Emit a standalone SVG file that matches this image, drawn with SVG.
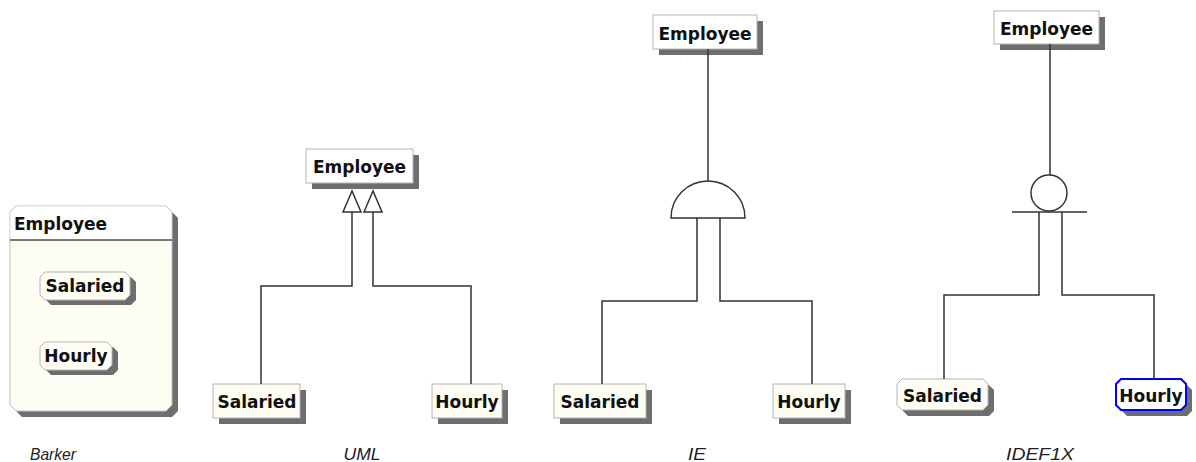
<svg xmlns="http://www.w3.org/2000/svg" width="1196" height="462" viewBox="0 0 1196 462">
<style>
.shadow{fill:#6e6e6e}
.box{fill:#ffffff;stroke:#b4b4b4;stroke-width:1}
.sub{fill:#fdfdf4;stroke:#b4b4b4;stroke-width:1}
.t{font-family:"DejaVu Sans",sans-serif;font-weight:bold;font-size:17px;fill:#111;text-anchor:middle}
.lbl{font-family:"Liberation Sans",sans-serif;font-style:italic;font-size:17px;fill:#222;text-anchor:middle}
.ln{fill:none;stroke:#333;stroke-width:1.5}
.sym{fill:#fff;stroke:#333;stroke-width:1.5}
</style>

<!-- Barker -->
<g id="barker-employee">
<path class="shadow" d="M22,212 H172 L178,218 V411 L172,417 H22 L16,411 V218 Z"/>
<path fill="#fdfdf4" stroke="#c0c0c0" d="M16,206 H166 L172,212 V405 L166,411 H16 L10,405 V212 Z"/>
<path fill="#ffffff" d="M16.5,206.5 H165.5 L171.5,212.5 V239 H10.5 V212.5 Z"/>
<line x1="10" y1="240" x2="172" y2="240" stroke="#7a7a7a" stroke-width="2"/>
<text x="14" y="230" class="t" text-anchor="start" style="text-anchor:start">Employee</text>
</g>
<g id="barker-salaried">
<path class="shadow" d="M51,277 H131 L136,282 V300 L131,305 H51 L46,300 V282 Z"/>
<path class="sub" d="M45,272 H125 L130,277 V295 L125,300 H45 L40,295 V277 Z"/>
<text x="85" y="292" class="t">Salaried</text>
</g>
<g id="barker-hourly">
<path class="shadow" d="M51,347 H113 L118,352 V370 L113,375 H51 L46,370 V352 Z"/>
<path class="sub" d="M45,342 H107 L112,347 V365 L107,370 H45 L40,365 V347 Z"/>
<text x="76" y="362" class="t">Hourly</text>
</g>

<!-- UML -->
<g id="uml-employee">
<rect class="shadow" x="312" y="155" width="107" height="34"/>
<rect class="box" x="306" y="149" width="107" height="34"/>
<text x="359.5" y="173" class="t">Employee</text>
</g>
<g id="uml-salaried">
<rect class="shadow" x="219" y="390" width="87" height="34"/>
<rect class="sub" x="213" y="384" width="87" height="34"/>
<text x="257" y="408" class="t">Salaried</text>
</g>
<g id="uml-hourly">
<rect class="shadow" x="438" y="390" width="70" height="34"/>
<rect class="sub" x="432" y="384" width="70" height="34"/>
<text x="467" y="408" class="t">Hourly</text>
</g>

<!-- IE -->
<g id="ie-employee">
<rect class="shadow" x="659" y="21" width="104" height="34"/>
<rect class="box" x="653" y="15" width="104" height="34"/>
<text x="705" y="40" class="t">Employee</text>
</g>
<g id="ie-salaried">
<rect class="shadow" x="560" y="390" width="92" height="34"/>
<rect class="sub" x="554" y="384" width="92" height="34"/>
<text x="600" y="408" class="t">Salaried</text>
</g>
<g id="ie-hourly">
<rect class="shadow" x="779" y="390" width="72" height="34"/>
<rect class="sub" x="773" y="384" width="72" height="34"/>
<text x="809" y="408" class="t">Hourly</text>
</g>

<!-- IDEF1X -->
<g id="idef1x-employee">
<rect class="shadow" x="1000" y="17" width="105" height="33"/>
<rect class="box" x="994" y="11" width="105" height="33"/>
<text x="1046.5" y="35" class="t">Employee</text>
</g>
<g id="idef1x-salaried">
<path class="shadow" d="M908,385 H989 L994,390 V411 L989,416 H908 L903,411 V390 Z"/>
<path class="sub" d="M902,379 H983 L988,384 V405 L983,410 H902 L897,405 V384 Z"/>
<text x="942.5" y="402" class="t">Salaried</text>
</g>
<g id="idef1x-hourly">
<path class="shadow" d="M1127,385 H1187 L1192,390 V411 L1187,416 H1127 L1122,411 V390 Z"/>
<path fill="#ffffff" stroke="#0000ff" stroke-width="2" d="M1121,379 H1181 L1186,384 V405 L1181,410 H1121 L1116,405 V384 Z"/>
<text x="1151" y="402" class="t">Hourly</text>
</g>

<g id="connectors">
<!-- UML -->
<polyline class="ln" points="352,212 352,286 261,286 261,384"/>
<polyline class="ln" points="373,212 373,286 471,286 471,384"/>
<polygon class="sym" points="352,191 343,212 361,212"/>
<polygon class="sym" points="373,191 364,212 382,212"/>
<!-- IE -->
<line class="ln" x1="708" y1="49" x2="708" y2="181"/>
<path class="sym" d="M671,218 A37,37 0 0 1 745,218 Z"/>
<polyline class="ln" points="697,218 697,301 602,301 602,384"/>
<polyline class="ln" points="720,218 720,301 812,301 812,384"/>
<!-- IDEF1X -->
<line class="ln" x1="1050" y1="44" x2="1050" y2="175"/>
<circle class="sym" cx="1049" cy="193" r="18"/>
<line class="ln" x1="1012" y1="212" x2="1087" y2="212"/>
<polyline class="ln" points="1039,212 1039,295 944,295 944,379"/>
<polyline class="ln" points="1062,212 1062,295 1154,295 1154,379"/>
</g>

<g id="labels">
<text x="53" y="460" class="lbl" textLength="46" lengthAdjust="spacingAndGlyphs">Barker</text>
<text x="362" y="460" class="lbl" textLength="37" lengthAdjust="spacingAndGlyphs">UML</text>
<text x="697" y="460" class="lbl" textLength="18" lengthAdjust="spacingAndGlyphs">IE</text>
<text x="1040" y="460" class="lbl" textLength="68" lengthAdjust="spacingAndGlyphs">IDEF1X</text>
</g>
</svg>
